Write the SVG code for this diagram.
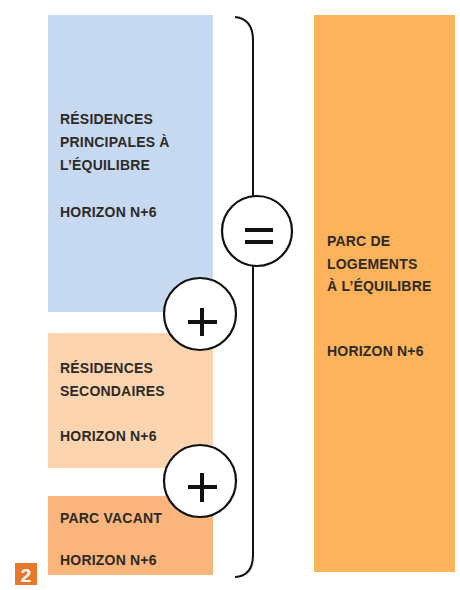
<svg xmlns="http://www.w3.org/2000/svg" width="460" height="590" viewBox="0 0 460 590">
<style>
.t{font-family:"Liberation Sans",Arial,sans-serif;font-weight:bold;font-size:14px;letter-spacing:0.2px;fill:#2e2a26}
.c{fill:#fff;stroke:#111;stroke-width:2.2}
.op{stroke:#111;stroke-width:4;fill:none}
</style>
<rect width="460" height="590" fill="#fff"/>
<g id="principales">
<rect x="48" y="15" width="165" height="297" fill="#c6d9f1"/>
<text class="t" x="60" y="124">RÉSIDENCES</text>
<text class="t" x="60" y="147">PRINCIPALES À</text>
<text class="t" x="60" y="170">L’ÉQUILIBRE</text>
<text class="t" x="60" y="217">HORIZON N+6</text>
</g>
<g id="secondaires">
<rect x="48" y="333" width="165" height="135" fill="#fcd5b0"/>
<text class="t" x="60" y="373">RÉSIDENCES</text>
<text class="t" x="60" y="396">SECONDAIRES</text>
<text class="t" x="60" y="441">HORIZON N+6</text>
</g>
<g id="vacant">
<rect x="48" y="496" width="165" height="79" fill="#f9b57c"/>
<text class="t" x="60" y="523">PARC VACANT</text>
<text class="t" x="60" y="565">HORIZON N+6</text>
</g>
<g id="parc">
<rect x="314" y="15" width="141" height="557" fill="#fdb35c"/>
<text class="t" x="327" y="246">PARC DE</text>
<text class="t" x="327" y="269">LOGEMENTS</text>
<text class="t" x="327" y="291">À L’ÉQUILIBRE</text>
<text class="t" x="327" y="356">HORIZON N+6</text>
</g>
<g id="connectors">
<path d="M235 17 Q253 19 253 40 L253 555 Q253 576 235 577" fill="none" stroke="#111" stroke-width="2"/>
</g>
<g id="equals">
<circle class="c" cx="257" cy="231" r="35"/>
<path class="op" d="M245 230 H273 M245 242 H273"/>
</g>
<g id="plus1">
<circle class="c" cx="200" cy="314" r="36"/>
<path class="op" d="M188 322 H217 M202 308 V336"/>
</g>
<g id="plus2">
<circle class="c" cx="200" cy="481" r="36"/>
<path class="op" d="M188 487 H217 M202 473 V502"/>
</g>
<g id="badge">
<rect x="15" y="563" width="22" height="22" fill="#e8772e"/>
<text x="26" y="582" text-anchor="middle" font-family="Liberation Sans,Arial,sans-serif" font-weight="bold" font-size="19" fill="#fff">2</text>
</g>
</svg>
